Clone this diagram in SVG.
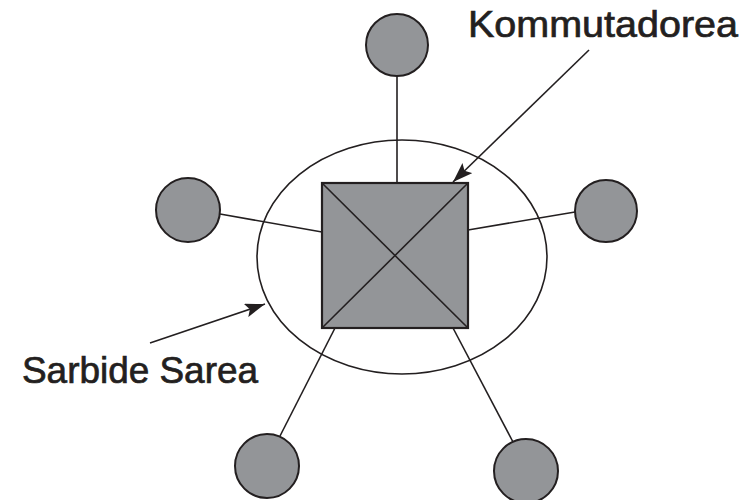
<svg xmlns="http://www.w3.org/2000/svg" width="753" height="500" viewBox="0 0 753 500">
<style>
.ln{stroke:#231f20;stroke-width:1.6;fill:none}
.nd{fill:#939598;stroke:#231f20;stroke-width:2}
.lbl{font-family:"Liberation Sans",Arial,sans-serif;font-size:37px;fill:#231f20;stroke:#231f20;stroke-width:0.7}
</style>
<defs>
<marker id="ah2" viewBox="0 0 20 14" refX="20" refY="7" markerWidth="20" markerHeight="14" orient="auto" markerUnits="userSpaceOnUse">
<path d="M0,0 L20,7 L0,14 L4,7 Z" fill="#231f20"/>
</marker>
</defs>
<rect width="753" height="500" fill="#fff"/>
<g id="connectors">
<line class="ln" x1="397" y1="76" x2="397" y2="183"/>
<line class="ln" x1="220" y1="214" x2="322" y2="232"/>
<line class="ln" x1="468" y1="230" x2="575" y2="212"/>
<line class="ln" x1="335" y1="328" x2="280" y2="436"/>
<line class="ln" x1="453" y1="328" x2="513" y2="442"/>
<line class="ln" x1="589" y1="50" x2="453" y2="182" marker-end="url(#ah2)"/>
<line class="ln" x1="150" y1="343" x2="265" y2="304" marker-end="url(#ah2)"/>
</g>
<g id="network">
<ellipse class="ln" cx="402" cy="257" rx="145" ry="117"/>
</g>
<g id="switch">
<rect x="322" y="183" width="146" height="145" fill="#939598" stroke="#231f20" stroke-width="2.2"/>
<line class="ln" x1="322" y1="183" x2="468" y2="328"/>
<line class="ln" x1="468" y1="183" x2="322" y2="328"/>
</g>
<g id="node-top"><circle class="nd" cx="397" cy="45" r="31"/></g>
<g id="node-left"><circle class="nd" cx="188" cy="210" r="32"/></g>
<g id="node-right"><circle class="nd" cx="606" cy="211" r="31"/></g>
<g id="node-bl"><circle class="nd" cx="267" cy="466" r="32"/></g>
<g id="node-br"><circle class="nd" cx="526" cy="471" r="32"/></g>
<g id="labels">
<text class="lbl" x="468" y="37" textLength="270" lengthAdjust="spacingAndGlyphs">Kommutadorea</text>
<text class="lbl" x="22" y="383" textLength="236" lengthAdjust="spacingAndGlyphs">Sarbide Sarea</text>
</g>
</svg>
